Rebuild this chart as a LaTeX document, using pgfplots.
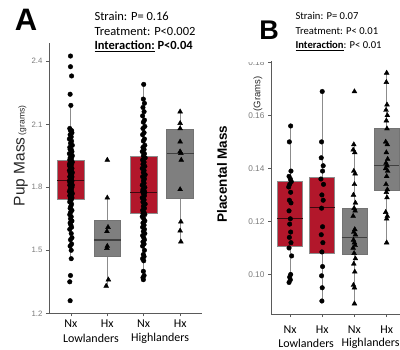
\documentclass[border=0pt]{standalone}
\usepackage{fontspec}
\setmainfont{Carlito}
\newfontfamily\arialf{Liberation Sans}
\usepackage{pgfplots}
\usepackage{pgfplotstable}
\pgfplotsset{compat=1.18}
\usepgfplotslibrary{statistics}
\definecolor{boxred}{HTML}{B2172B}
\definecolor{boxgray}{HTML}{7F7F7F}
\definecolor{axgray}{HTML}{5A5A5A}
\definecolor{tickgray}{HTML}{7A7A7A}

% ---------- Panel A data ----------
\pgfplotstableread{
x y
0.99 2.425
0.99 2.374
1.02 2.330
0.98 2.243
1.00 2.190
0.97 2.08
1.02 2.07
0.99 2.07
1.03 2.06
0.98 2.05
1.01 2.04
0.96 2.03
1.02 2.02
0.99 2.01
1.04 2.00
0.97 1.99
1.01 1.98
0.98 1.98
1.03 1.97
0.96 1.96
1.00 1.96
1.04 1.95
0.98 1.94
1.02 1.94
0.97 1.93
1.01 1.93
1.04 1.92
0.99 1.92
0.96 1.91
1.02 1.91
1.00 1.90
0.97 1.90
1.03 1.89
0.99 1.89
1.01 1.88
0.96 1.88
1.04 1.87
0.98 1.87
1.02 1.86
1.00 1.86
0.97 1.85
1.03 1.85
0.99 1.84
1.01 1.84
0.96 1.83
1.03 1.83
1.00 1.83
0.98 1.82
1.02 1.82
1.04 1.81
0.97 1.81
1.00 1.80
1.03 1.80
0.98 1.79
1.01 1.79
0.96 1.78
1.02 1.78
0.99 1.77
1.04 1.77
0.97 1.76
1.01 1.76
0.99 1.75
1.03 1.75
0.98 1.74
1.01 1.74
0.97 1.73
1.02 1.72
1.00 1.71
0.98 1.70
1.03 1.69
0.99 1.68
0.97 1.67
1.01 1.66
0.99 1.65
1.03 1.64
0.98 1.63
1.00 1.62
1.02 1.61
0.97 1.60
1.01 1.58
1.03 1.56
0.99 1.55
1.02 1.53
0.98 1.52
1.01 1.50
1.01 1.46
0.99 1.38
0.97 1.35
0.98 1.26
}\lnxA

\pgfplotstableread{
x y
2.00 1.93
2.00 1.75
2.02 1.61
1.99 1.59
2.00 1.52
1.99 1.51
2.03 1.36
1.97 1.33
}\lhxA

\pgfplotstableread{
x y
3.00 2.29
2.99 2.22
3.02 2.20
2.98 2.18
3.01 2.16
2.97 2.14
3.02 2.12
2.99 2.11
3.03 2.09
2.98 2.08
3.01 2.06
2.97 2.05
3.02 2.03
2.99 2.02
3.03 2.00
2.98 1.99
3.01 1.98
2.96 1.97
3.02 1.96
2.99 1.95
3.04 1.94
2.97 1.93
3.01 1.92
2.98 1.91
3.03 1.90
2.96 1.89
3.01 1.88
2.99 1.87
3.04 1.86
2.97 1.85
3.02 1.84
2.99 1.83
3.01 1.82
2.96 1.81
3.03 1.80
2.98 1.79
3.01 1.785
2.97 1.78
3.03 1.775
2.99 1.77
3.02 1.76
2.96 1.75
3.01 1.74
2.98 1.73
3.04 1.72
2.99 1.71
3.02 1.70
2.97 1.69
3.01 1.68
2.98 1.675
3.03 1.67
2.96 1.66
3.00 1.65
3.03 1.64
2.98 1.63
3.01 1.62
2.97 1.61
3.02 1.60
2.99 1.59
3.03 1.58
2.97 1.57
3.00 1.56
3.02 1.55
2.98 1.54
3.01 1.53
2.97 1.52
3.02 1.50
2.99 1.48
3.01 1.47
2.97 1.46
3.00 1.45
2.99 1.40
3.01 1.38
2.98 1.37
2.99 1.36
}\hnxA

\pgfplotstableread{
x y
4.00 2.160
4.00 2.105
4.00 2.080
4.00 2.017
4.00 1.970
4.02 1.962
4.03 1.930
4.00 1.790
4.02 1.636
4.00 1.593
4.02 1.541
}\hhxA

% ---------- Panel B data ----------
\pgfplotstableread{
x y
1.02 0.156
0.98 0.150
1.03 0.139
0.97 0.137
1.01 0.136
1.04 0.135
0.99 0.134
0.96 0.133
1.02 0.131
0.98 0.128
1.03 0.127
0.97 0.124
1.01 0.121
0.99 0.119
1.02 0.116
0.98 0.114
1.03 0.112
0.97 0.110
1.05 0.107
1.02 0.100
0.99 0.099
1.01 0.098
0.97 0.097
}\lnxB

\pgfplotstableread{
x y
2.00 0.169
1.98 0.150
1.97 0.144
2.03 0.141
2.01 0.139
1.96 0.136
2.04 0.134
1.99 0.130
2.03 0.128
1.98 0.125
2.01 0.118
1.97 0.115
2.02 0.112
1.99 0.1085
2.01 0.103
1.98 0.0995
2.00 0.095
1.99 0.090
}\lhxB

\pgfplotstableread{
x y
3.00 0.169
2.98 0.149
2.96 0.147
3.01 0.146
2.98 0.139
3.02 0.138
3.00 0.134
2.97 0.130
3.03 0.127
2.99 0.125
3.02 0.124
2.96 0.122
3.01 0.117
2.98 0.116
3.03 0.115
2.97 0.113
3.00 0.112
3.02 0.111
2.96 0.110
2.99 0.108
3.03 0.106
2.98 0.104
3.01 0.101
2.97 0.096
3.00 0.095
3.00 0.089
}\hnxB

\pgfplotstableread{
x y
4.00 0.176
3.99 0.1725
4.01 0.164
3.98 0.162
4.02 0.160
3.99 0.158
4.01 0.155
3.97 0.150
4.02 0.149
3.99 0.146
4.03 0.1435
3.98 0.142
4.01 0.141
3.97 0.140
4.03 0.139
4.00 0.137
3.98 0.134
4.02 0.132
3.99 0.131
4.01 0.129
3.97 0.1235
4.02 0.122
4.00 0.121
4.00 0.112
}\hhxB

\pgfplotsset{
  panel/.style={
    scale only axis, anchor=south west, clip=false,
    axis x line*=bottom, axis y line*=left,
    axis line style={draw=axgray, line width=0.7pt},
    tick style={draw=axgray, line width=0.6pt},
    tick align=outside, major tick length=3pt,
    xtick={1,2,3,4}, xticklabels={Nx,Hx,Nx,Hx},
    xticklabel style={font=\fontsize{12}{12}\selectfont, text=black},
    yticklabel style={font=\arialf\fontsize{7.8}{8}\selectfont, text=tickgray},
    /pgf/number format/assume math mode=true,
  },
  redbox/.style={
    boxplot/draw direction=y, fill=boxred, draw=black!45, line width=0.6pt,
    boxplot/whisker extend=0,
    boxplot/every median/.style={draw=black!65!boxred, line width=1.1pt},
    boxplot/every whisker/.style={draw=black!45, line width=0.8pt},
  },
  graybox/.style={
    boxplot/draw direction=y, fill=boxgray, draw=black!55, line width=0.6pt,
    boxplot/whisker extend=0,
    boxplot/every median/.style={draw=black!75, line width=1.1pt},
    boxplot/every whisker/.style={draw=black!45, line width=0.8pt},
  },
  circ/.style={only marks, mark=*, mark size=2.3pt, black, mark options={draw=black, fill=black}},
  tri/.style={only marks, mark=triangle*, mark size=2.8pt, black, mark options={draw=black, fill=black}},
}

\begin{document}
\begin{tikzpicture}
\useasboundingbox (0pt,0pt) rectangle (400pt,349pt);

% ================= Panel A =================
\begin{axis}[panel, at={(49pt,35.7pt)}, width=153pt, height=270.3pt,
  xmin=0.4, xmax=4.6, ymin=1.2, ymax=2.487,
  ytick={1.2,1.5,1.8,2.1,2.4},
  yticklabel style={/pgf/number format/fixed, /pgf/number format/precision=1, /pgf/number format/fixed zerofill},
]
\addplot[redbox, boxplot prepared={draw position=1, box extend=0.74,
  lower whisker=1.46, lower quartile=1.743, median=1.831, upper quartile=1.93, upper whisker=2.19}] coordinates {};
\addplot[graybox, boxplot prepared={draw position=2, box extend=0.74,
  lower whisker=1.33, lower quartile=1.473, median=1.549, upper quartile=1.645, upper whisker=1.75}] coordinates {};
\addplot[redbox, boxplot prepared={draw position=3, box extend=0.74,
  lower whisker=1.36, lower quartile=1.676, median=1.776, upper quartile=1.946, upper whisker=2.29}] coordinates {};
\addplot[graybox, boxplot prepared={draw position=4, box extend=0.74,
  lower whisker=1.54, lower quartile=1.748, median=1.962, upper quartile=2.078, upper whisker=2.16}] coordinates {};
\addplot[circ] table[x=x,y=y]{\lnxA};
\addplot[tri] table[x=x,y=y]{\lhxA};
\addplot[circ] table[x=x,y=y]{\hnxA};
\addplot[tri] table[x=x,y=y]{\hhxA};
\node[font=\fontsize{12}{12}\selectfont] at (axis cs:1.55,1.2) [yshift=-24.7pt] {Lowlanders};
\node[font=\fontsize{12}{12}\selectfont] at (axis cs:3.45,1.2) [yshift=-24.7pt] {Highlanders};
\end{axis}

% y label A
\node[rotate=90, text=black!85] at (21pt,193pt) {{\arialf\fontsize{15.5}{16}\selectfont Pup Mass}\ {\arialf\fontsize{8.5}{9}\selectfont (grams)}};

% title A
\node[font=\arialf\bfseries\fontsize{31}{31}\selectfont] at (26pt,329pt) {A};
\node[anchor=base west, font=\fontsize{12.5}{13}\selectfont] at (91pt,328.3pt) {Strain: P= 0.16};
\node[anchor=base west, font=\fontsize{12.5}{13}\selectfont] at (91pt,313pt) {Treatment: P<0.002};
\node[anchor=base west, font=\fontsize{12.5}{13}\selectfont] at (91pt,299pt) {\textbf{\underline{Interaction:} P<0.04}};

% ================= Panel B =================
\begin{axis}[panel, at={(271pt,35pt)}, width=135pt, height=253pt,
  xmin=0.41, xmax=4.6, ymin=0.0851, ymax=0.1805,
  ytick={0.10,0.12,0.14,0.16,0.18},
  yticklabel style={/pgf/number format/fixed, /pgf/number format/precision=2, /pgf/number format/fixed zerofill, font=\arialf\fontsize{8.3}{9}\selectfont},
  xticklabel style={yshift=-5pt},
]
\addplot[redbox, boxplot prepared={draw position=1, box extend=0.78,
  lower whisker=0.097, lower quartile=0.1106, median=0.1212, upper quartile=0.135, upper whisker=0.156}] coordinates {};
\addplot[redbox, boxplot prepared={draw position=2, box extend=0.78,
  lower whisker=0.090, lower quartile=0.1081, median=0.1254, upper quartile=0.1366, upper whisker=0.169}] coordinates {};
\addplot[graybox, boxplot prepared={draw position=3, box extend=0.78,
  lower whisker=0.089, lower quartile=0.1075, median=0.1139, upper quartile=0.1251, upper whisker=0.1497}] coordinates {};
\addplot[graybox, boxplot prepared={draw position=4, box extend=0.78,
  lower whisker=0.112, lower quartile=0.1319, median=0.1412, upper quartile=0.1553, upper whisker=0.176}] coordinates {};
\addplot[circ] table[x=x,y=y]{\lnxB};
\addplot[circ] table[x=x,y=y]{\lhxB};
\addplot[tri] table[x=x,y=y]{\hnxB};
\addplot[tri] table[x=x,y=y]{\hhxB};
\node[font=\fontsize{12}{12}\selectfont] at (axis cs:1.5,0.0851) [yshift=-29pt] {Lowlanders};
\node[font=\fontsize{12}{12}\selectfont] at (axis cs:3.5,0.0851) [yshift=-29pt] {Highlanders};
\end{axis}

% y label B
\node[rotate=90, text=black] at (222pt,175pt) {\arialf\bfseries\fontsize{13.5}{14}\selectfont Placental Mass};
\node[rotate=90, text=black!85] at (258pt,255pt) {\arialf\fontsize{9.5}{10}\selectfont (Grams)};

% crop top of 0.18 label (as in the reference)
\fill[white] (236pt,287pt) rectangle (267.5pt,300pt);

% title B
\node[font=\arialf\bfseries\fontsize{27}{27}\selectfont] at (269pt,319pt) {B};
\node[anchor=base west, font=\fontsize{10.6}{11}\selectfont] at (292pt,329pt) {Strain: P= 0.07};
\node[anchor=base west, font=\fontsize{10.6}{11}\selectfont] at (292pt,314pt) {Treatment: P< 0.01};
\node[anchor=base west, font=\fontsize{10.6}{11}\selectfont] at (292pt,300.5pt) {\textbf{\underline{Interaction}}: P< 0.01};
\end{tikzpicture}
\end{document}
